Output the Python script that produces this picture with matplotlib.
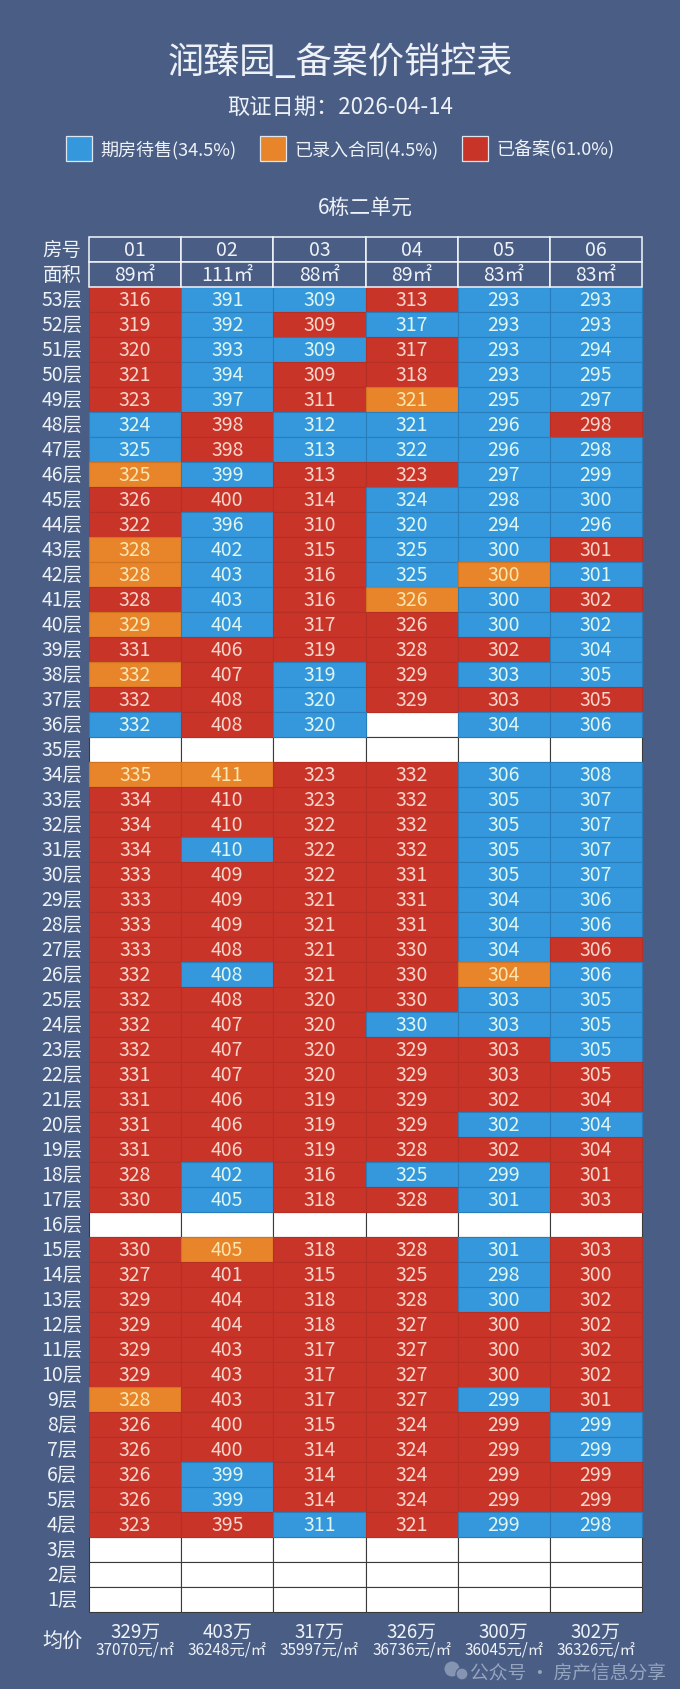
import matplotlib
matplotlib.use("Agg")
import matplotlib.pyplot as plt
from matplotlib.patches import Rectangle, Circle

plt.rcParams['font.family'] = ['Noto Sans CJK SC', 'DejaVu Sans']

# ---------------- data ----------------
title = "润臻园_备案价销控表"
subtitle = "取证日期：2026-04-14"
building = "6栋二单元"
legend_labels = ["期房待售(34.5%)", "已录入合同(4.5%)", "已备案(61.0%)"]
units = ["01", "02", "03", "04", "05", "06"]
areas = ["89㎡", "111㎡", "88㎡", "89㎡", "83㎡", "83㎡"]
floors = list(range(53, 0, -1))
avg_total = ["329万", "403万", "317万", "326万", "300万", "302万"]
avg_unit = ["37070元/㎡", "36248元/㎡", "35997元/㎡", "36736元/㎡", "36045元/㎡", "36326元/㎡"]

# prices per floor (53 -> 1), None = no unit
price_rows = [
    [316, 391, 309, 313, 293, 293],
    [319, 392, 309, 317, 293, 293],
    [320, 393, 309, 317, 293, 294],
    [321, 394, 309, 318, 293, 295],
    [323, 397, 311, 321, 295, 297],
    [324, 398, 312, 321, 296, 298],
    [325, 398, 313, 322, 296, 298],
    [325, 399, 313, 323, 297, 299],
    [326, 400, 314, 324, 298, 300],
    [322, 396, 310, 320, 294, 296],
    [328, 402, 315, 325, 300, 301],
    [328, 403, 316, 325, 300, 301],
    [328, 403, 316, 326, 300, 302],
    [329, 404, 317, 326, 300, 302],
    [331, 406, 319, 328, 302, 304],
    [332, 407, 319, 329, 303, 305],
    [332, 408, 320, 329, 303, 305],
    [332, 408, 320, None, 304, 306],
    [None, None, None, None, None, None],
    [335, 411, 323, 332, 306, 308],
    [334, 410, 323, 332, 305, 307],
    [334, 410, 322, 332, 305, 307],
    [334, 410, 322, 332, 305, 307],
    [333, 409, 322, 331, 305, 307],
    [333, 409, 321, 331, 304, 306],
    [333, 409, 321, 331, 304, 306],
    [333, 408, 321, 330, 304, 306],
    [332, 408, 321, 330, 304, 306],
    [332, 408, 320, 330, 303, 305],
    [332, 407, 320, 330, 303, 305],
    [332, 407, 320, 329, 303, 305],
    [331, 407, 320, 329, 303, 305],
    [331, 406, 319, 329, 302, 304],
    [331, 406, 319, 329, 302, 304],
    [331, 406, 319, 328, 302, 304],
    [328, 402, 316, 325, 299, 301],
    [330, 405, 318, 328, 301, 303],
    [None, None, None, None, None, None],
    [330, 405, 318, 328, 301, 303],
    [327, 401, 315, 325, 298, 300],
    [329, 404, 318, 328, 300, 302],
    [329, 404, 318, 327, 300, 302],
    [329, 403, 317, 327, 300, 302],
    [329, 403, 317, 327, 300, 302],
    [328, 403, 317, 327, 299, 301],
    [326, 400, 315, 324, 299, 299],
    [326, 400, 314, 324, 299, 299],
    [326, 399, 314, 324, 299, 299],
    [326, 399, 314, 324, 299, 299],
    [323, 395, 311, 321, 299, 298],
    [None, None, None, None, None, None],
    [None, None, None, None, None, None],
    [None, None, None, None, None, None],
]
# status: B = 期房待售, O = 已录入合同, R = 已备案, - = none
status_rows = [
    "RBBRBB", "RBRBBB", "RBBRBB", "RBRRBB", "RBROBB",
    "BRBBBR", "BRBBBB", "OBRRBB", "RRRBBB", "RBRBBB",
    "OBRBBR", "OBRBOB", "RBROBR", "OBRRBB", "RRRRRB",
    "ORBRBB", "RRBRRR", "BRB-BB", "------", "OORRBB",
    "RRRRBB", "RRRRBB", "RBRRBB", "RRRRBB", "RRRRBB",
    "RRRRBB", "RRRRBR", "RBRROB", "RRRRBB", "RRRBBB",
    "RRRRRB", "RRRRRR", "RRRRRR", "RRRRBB", "RRRRRR",
    "RBRBBR", "RBRRBR", "------", "RORRBR", "RRRRBR",
    "RRRRBR", "RRRRRR", "RRRRRR", "RRRRRR", "ORRRBR",
    "RRRRRB", "RRRRRB", "RBRRRR", "RBRRRR", "RRBRBB",
    "------", "------", "------",
]

# ---------------- style ----------------
BG = "#4a5e85"
fill = {"B": "#3598dc", "O": "#e8842a", "R": "#c93429", "-": "#ffffff"}
edge = {"B": "#2a7dbb", "O": "#d0741f", "R": "#b52f25", "-": "#3a3a3a"}
tcol = {"B": "#def6f1", "O": "#fbe6b0", "R": "#f9d6cc"}
WHITE = "#eef2f8"
FONT = ['Noto Sans CJK SC', 'DejaVu Sans']

W, H = 680, 1690
fig = plt.figure(figsize=(W / 100, H / 100), dpi=100, facecolor=BG)
ax = fig.add_axes([0, 0, 1, 1])
ax.set_xlim(0, W)
ax.set_ylim(H, 0)
ax.axis("off")
ax.set_facecolor(BG)

# titles
ax.text(340, 63, title, ha="center", va="center", fontsize=26, color=WHITE, family=FONT)
ax.text(340, 107, subtitle, ha="center", va="center", fontsize=16, color=WHITE, family=FONT)

# legend
leg_box_x = [66, 260, 462]
for lx, lab, key in zip(leg_box_x, legend_labels, ["B", "O", "R"]):
    ax.add_patch(Rectangle((lx, 137), 26, 25, facecolor=fill[key], edgecolor="#dfe6f0", lw=0.9))
    ax.text(lx + 34, 150, lab, ha="left", va="center", fontsize=13, color=WHITE, family=FONT)

# table geometry
L, R = 89, 642
cw = (R - L) / len(units)
top, rh = 238, 25
label_x = 62
FS = 14

ax.text((L + R) / 2, 208, building, ha="center", va="center", fontsize=15, color=WHITE, family=FONT)

# header rows
for r, (name, vals) in enumerate([("房号", units), ("面积", areas)]):
    y = top + r * rh
    ax.text(label_x, y + rh / 2, name, ha="center", va="center", fontsize=FS, color=WHITE, family=FONT)
    for c, v in enumerate(vals):
        x = L + c * cw
        ax.add_patch(Rectangle((x, y), cw, rh, facecolor=BG, edgecolor="#f4f6fa", lw=1.1, zorder=3))
        ax.text(x + cw / 2, y + rh / 2, v, ha="center", va="center", fontsize=FS, color=WHITE,
                family=FONT, zorder=4)

# floor rows
for i, (fl, prices, sts) in enumerate(zip(floors, price_rows, status_rows)):
    y = top + (i + 2) * rh
    ax.text(label_x, y + rh / 2, f"{fl}层", ha="center", va="center", fontsize=FS, color=WHITE, family=FONT)
    for c, (p, s) in enumerate(zip(prices, sts)):
        x = L + c * cw
        z = 2 if s != "-" else 1
        ax.add_patch(Rectangle((x, y), cw, rh, facecolor=fill[s], edgecolor=edge[s], lw=0.8, zorder=z))
        if p is not None:
            ax.text(x + cw / 2, y + rh / 2, str(p), ha="center", va="center", fontsize=FS,
                    color=tcol[s], family=FONT, zorder=5)

bottom = top + (len(floors) + 2) * rh

# average row
ax.text(label_x, bottom + 29, "均价", ha="center", va="center", fontsize=14.5, color=WHITE, family=FONT)
for c, (a, u) in enumerate(zip(avg_total, avg_unit)):
    xc = L + c * cw + cw / 2
    ax.text(xc, bottom + 19, a, ha="center", va="center", fontsize=13.5, color=WHITE, family=FONT)
    ax.text(xc, bottom + 37, u, ha="center", va="center", fontsize=11, color=WHITE, family=FONT)

# watermark
ax.add_patch(Circle((452, 1670), 7.5, facecolor="#8c9bb6", edgecolor="none", alpha=0.9, zorder=6))
ax.add_patch(Circle((462, 1675), 6.0, facecolor="#8c9bb6", edgecolor=BG, lw=1, alpha=0.9, zorder=7))
ax.text(470, 1673, "公众号 · 房产信息分享", ha="left", va="center", fontsize=13.5,
        color="#95a4bf", family=FONT, zorder=6)

fig.savefig("out.png", dpi=100, facecolor=BG)
